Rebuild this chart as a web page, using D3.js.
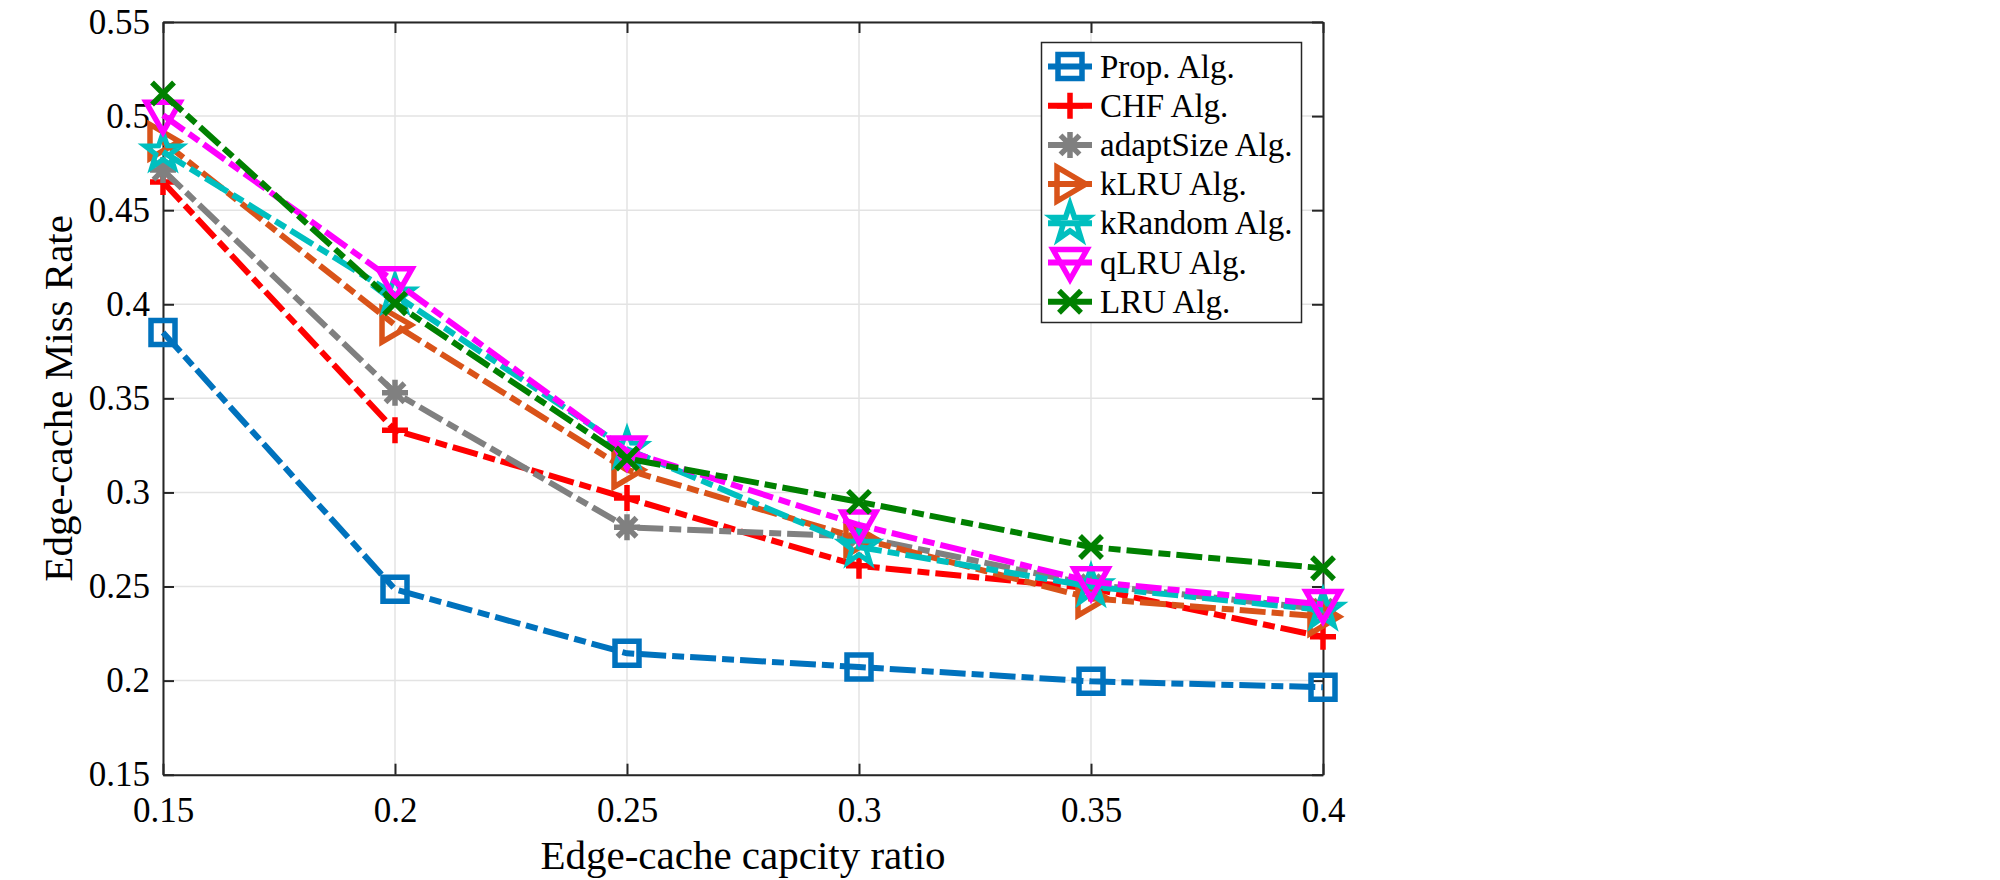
<!DOCTYPE html>
<html lang="en">
  <head>
    <meta charset="utf-8">
    <title>Edge-cache miss rate</title>
    <script src="https://d3js.org/d3.v7.min.js"></script>
    <style>
      body { margin: 0; background: #fff; }
      text { font-family: "Liberation Serif", "Times New Roman", serif; fill: #000; }
    </style>
  </head>
  <body>
    <script>
      // data
      let ratios = [0.15, 0.2, 0.25, 0.3, 0.35, 0.4];
      let propAlg = [0.385, 0.2485, 0.2145, 0.2072, 0.1996, 0.1965];
      let chfAlg = [0.465, 0.333, 0.297, 0.261, 0.249, 0.2233];
      let adaptSizeAlg = [0.4713, 0.353, 0.2815, 0.2765, 0.251, 0.238];
      let kLruAlg = [0.4865, 0.389, 0.312, 0.2756, 0.2437, 0.234];
      let kRandomAlg = [0.481, 0.405, 0.323, 0.271, 0.25, 0.2375];
      let qLruAlg = [0.5005, 0.412, 0.322, 0.2827, 0.2526, 0.2405];
      let lruAlg = [0.512, 0.4005, 0.318, 0.295, 0.271, 0.2597];

      let seriesNames = ["Prop. Alg.", "CHF Alg.", "adaptSize Alg.", "kLRU Alg.", "kRandom Alg.", "qLRU Alg.", "LRU Alg."];
      let xTicks = [0.15, 0.2, 0.25, 0.3, 0.35, 0.4];
      let yTicks = [0.15, 0.2, 0.25, 0.3, 0.35, 0.4, 0.45, 0.5, 0.55];

      let colors = ["#0072BD", "#FF0000", "#808080", "#D95319", "#00BFBF", "#FF00FF", "#008000"];
      let markers = ["square", "plus", "asterisk", "triRight", "star", "triDown", "cross"];
      let allValues = [propAlg, chfAlg, adaptSizeAlg, kLruAlg, kRandomAlg, qLruAlg, lruAlg];

      let plotLeft = 163, plotRight = 1323, plotTop = 22, plotBottom = 774.7;

      let svg = d3.select("body").append("svg")
                  .attr("width", 2000)
                  .attr("height", 880);

      svg.append("rect").attr("width", 2000).attr("height", 880).attr("fill", "#fff");

      let x = d3.scaleLinear().domain([0.15, 0.4]).range([plotLeft, plotRight]);
      let y = d3.scaleLinear().domain([0.15, 0.55]).range([plotBottom, plotTop]);

      // grid
      let grid = svg.append("g");
      grid.selectAll(".gx").data(xTicks).enter().append("line")
          .attr("x1", d => x(d)).attr("x2", d => x(d))
          .attr("y1", plotTop).attr("y2", plotBottom)
          .attr("stroke", "#e3e3e3").attr("stroke-width", 1.5);
      grid.selectAll(".gy").data(yTicks).enter().append("line")
          .attr("x1", plotLeft).attr("x2", plotRight)
          .attr("y1", d => y(d)).attr("y2", d => y(d))
          .attr("stroke", "#e3e3e3").attr("stroke-width", 1.5);

      // axes, ticks pointing inward on all four sides
      let fmt = d => String(+d.toFixed(2));
      let axisStyle = function(g) {
        g.select(".domain").attr("stroke", "#262626").attr("stroke-width", 2);
        g.selectAll(".tick line").attr("stroke", "#262626").attr("stroke-width", 2);
        g.selectAll(".tick text")
         .attr("font-family", "Liberation Serif, Times New Roman, serif")
         .attr("font-size", 35).attr("fill", "#000");
      };

      svg.append("g").attr("transform", "translate(0," + plotBottom + ")")
         .call(d3.axisBottom(x).tickValues(xTicks).tickFormat(fmt).tickSizeInner(-11).tickSizeOuter(0).tickPadding(22))
         .call(axisStyle);
      svg.append("g").attr("transform", "translate(" + plotLeft + ",0)")
         .call(d3.axisLeft(y).tickValues(yTicks).tickFormat(fmt).tickSizeInner(-11).tickSizeOuter(0).tickPadding(13))
         .call(axisStyle);
      svg.append("g").attr("transform", "translate(0," + plotTop + ")")
         .call(d3.axisTop(x).tickValues(xTicks).tickFormat("").tickSizeInner(-11).tickSizeOuter(0))
         .call(axisStyle);
      svg.append("g").attr("transform", "translate(" + plotRight + ",0)")
         .call(d3.axisRight(y).tickValues(yTicks).tickFormat("").tickSizeInner(-11).tickSizeOuter(0))
         .call(axisStyle);

      // marker paths, centred on 0,0
      function markerPath(kind) {
        let p = d3.path();
        if (kind == "square") {
          p.rect(-12, -12, 24, 24);
        } else if (kind == "plus") {
          p.moveTo(-13, 0); p.lineTo(13, 0); p.moveTo(0, -13); p.lineTo(0, 13);
        } else if (kind == "asterisk") {
          p.moveTo(-13, 0); p.lineTo(13, 0); p.moveTo(0, -13); p.lineTo(0, 13);
          p.moveTo(-9.5, -9.5); p.lineTo(9.5, 9.5); p.moveTo(-9.5, 9.5); p.lineTo(9.5, -9.5);
        } else if (kind == "cross") {
          p.moveTo(-11, -11); p.lineTo(11, 11); p.moveTo(-11, 11); p.lineTo(11, -11);
        } else if (kind == "triRight") {
          p.moveTo(16, 0); p.lineTo(-13, -17); p.lineTo(-13, 17); p.closePath();
        } else if (kind == "triDown") {
          p.moveTo(0, 17); p.lineTo(-17, -13); p.lineTo(17, -13); p.closePath();
        } else if (kind == "star") {
          for (let k = 0; k < 10; k++) {
            let r = k % 2 == 0 ? 19 : 7.5;
            let a = -Math.PI / 2 + k * Math.PI / 5;
            if (k == 0) p.moveTo(r * Math.cos(a), r * Math.sin(a));
            else p.lineTo(r * Math.cos(a), r * Math.sin(a));
          }
          p.closePath();
        }
        return p.toString();
      }

      let line = d3.line().x(d => x(d[0])).y(d => y(d[1]));

      let series = svg.selectAll(".series")
                      .data(allValues)
                      .enter()
                      .append("g")
                      .attr("class", "series");

      series.append("path")
            .attr("d", d => line(ratios.map((r, j) => [r, d[j]])))
            .attr("fill", "none")
            .attr("stroke", (d, i) => colors[i])
            .attr("stroke-width", 6)
            .attr("stroke-dasharray", "26,6,12,6");

      series.each(function(d, i) {
        d3.select(this).selectAll(".mk")
          .data(d)
          .enter()
          .append("path")
          .attr("transform", (v, j) => "translate(" + x(ratios[j]) + "," + y(v) + ")")
          .attr("d", markerPath(markers[i]))
          .attr("fill", "none")
          .attr("stroke", colors[i])
          .attr("stroke-width", markers[i] == "star" ? 5 : 5.5)
          .attr("stroke-linejoin", "miter");
      });

      // legend
      let legend = svg.append("g");
      legend.append("rect")
            .attr("x", 1041.5).attr("y", 42.5)
            .attr("width", 260).attr("height", 280)
            .attr("fill", "#fff").attr("stroke", "#262626").attr("stroke-width", 1.5);

      let rows = legend.selectAll(".row")
                       .data(seriesNames)
                       .enter()
                       .append("g")
                       .attr("transform", (d, i) => "translate(0," + (66.5 + i * 39.2) + ")");

      rows.append("line")
          .attr("x1", 1048).attr("x2", 1092)
          .attr("stroke", (d, i) => colors[i])
          .attr("stroke-width", 6);
      rows.append("path")
          .attr("transform", "translate(1070,0)")
          .attr("d", (d, i) => markerPath(markers[i]))
          .attr("fill", "none")
          .attr("stroke", (d, i) => colors[i])
          .attr("stroke-width", 5.5);
      rows.append("text")
          .attr("x", 1100).attr("y", 11)
          .attr("font-size", 33)
          .text(d => d);

      // axis titles
      svg.append("text")
         .attr("x", (plotLeft + plotRight) / 2).attr("y", 869)
         .attr("text-anchor", "middle")
         .attr("font-size", 41)
         .text("Edge-cache capcity ratio");

      svg.append("text")
         .attr("transform", "translate(72," + (plotTop + plotBottom) / 2 + ") rotate(-90)")
         .attr("text-anchor", "middle")
         .attr("font-size", 41)
         .text("Edge-cache Miss Rate");
    </script>
  </body>
</html>
